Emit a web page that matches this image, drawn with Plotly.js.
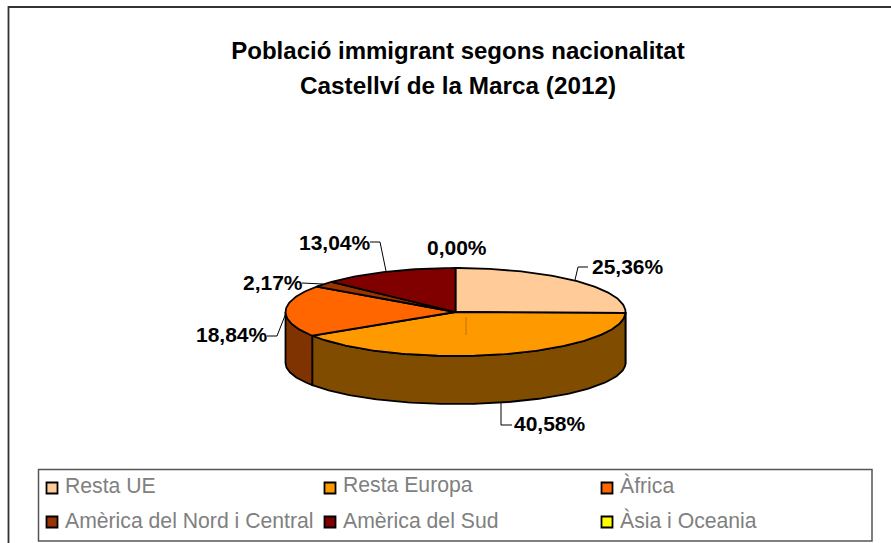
<!DOCTYPE html>
<html><head><meta charset="utf-8">
<script src="https://cdn.plot.ly/plotly-3.0.1.min.js"></script>
<style>html,body{margin:0;padding:0;background:#fff;overflow:hidden}</style>
</head><body><div id="chart" style="width:891px;height:543px"></div>
<script>
const categories = ["Resta UE","Resta Europa","Àfrica","Amèrica del Nord i Central","Amèrica del Sud","Àsia i Oceania"];
const values = [25.36,40.58,18.84,2.17,13.04,0.00];
const topColors = ["#FFCC99","#FF9900","#FF6600","#993300","#800000","#FFFF00"];
const sideColors = ["#7F6650","#7F4C00","#7F3300","#4C1900","#400000","#7F7F00"];
const FONT = "Liberation Sans, Arial, sans-serif";

// pie geometry on a pixel-like axis
const cx=455.5, cy=312, rx=170, ry=44, cyBottom=363, ryBottom=41;
const total = values.reduce((a,b)=>a+b,0);
const toAngle = v => v/total*2*Math.PI;
function arc(a0,a1,c,r){
  const n=Math.max(2,Math.ceil((a1-a0)/0.02)), xs=[], ys=[];
  for(let i=0;i<=n;i++){const a=a0+(a1-a0)*i/n; xs.push(cx+rx*Math.sin(a)); ys.push(c-r*Math.cos(a));}
  return [xs,ys];
}
const traces=[];
let cum=0;
const spans=values.map(v=>{const s=[cum,cum+toAngle(v)];cum=s[1];return s;});
// side walls (front half only)
spans.forEach((s,i)=>{
  const a0=Math.max(s[0],Math.PI/2), a1=Math.min(s[1],3*Math.PI/2);
  if(a1<=a0) return;
  const [tx,ty]=arc(a0,a1,cy,ry), [bx,by]=arc(a0,a1,cyBottom,ryBottom);
  traces.push({type:"scatter",mode:"lines",fill:"toself",fillcolor:sideColors[i],
    x:tx.concat(bx.reverse(),[tx[0]]),y:ty.concat(by.reverse(),[ty[0]]),
    line:{color:"#000",width:1.8},hoverinfo:"skip",showlegend:false});
});
// top faces
spans.forEach((s,i)=>{
  if(values[i]===0) return;
  const [tx,ty]=arc(s[0],s[1],cy,ry);
  traces.push({type:"scatter",mode:"lines",fill:"toself",fillcolor:topColors[i],name:categories[i],
    x:[cx].concat(tx,[cx]),y:[cy].concat(ty,[cy]),
    line:{color:"#000",width:1.8},hoverinfo:"skip",showlegend:false});
});
// leader lines
const leaderX=[[575,578,588],[501,501,512],[286,277,267],[323,302],[386,380,370]];
const leaderY=[[280,267,267],[403,425,425],[313,336,336],[284,283],[271,242,242]];
leaderX.forEach((lx,i)=>traces.push({type:"scatter",mode:"lines",x:lx,y:leaderY[i],
  line:{color:"#000",width:1},hoverinfo:"skip",showlegend:false}));
// thin mark left inside the pie by the empty slice
traces.push({type:"scatter",mode:"lines",x:[466,466],y:[317,335],line:{color:"#A86A00",width:0.8},hoverinfo:"skip",showlegend:false});
// legend swatches
const legX=[52,330,607], legY=[488,522];
const legTextX=[65,343,620], legTextY=[485,520];
const swX=categories.map((c,i)=>legX[i%3]), swY=categories.map((c,i)=>legY[Math.floor(i/3)]);
traces.push({type:"scatter",mode:"markers",x:swX,y:swY,
  marker:{symbol:"square",size:11,color:topColors,line:{color:"#000",width:1.8}},hoverinfo:"skip",showlegend:false});

const labelX=[628,550,232,273,335,457], labelY=[266,423,334,282,242,247];
const annotations=values.map((v,i)=>({x:labelX[i],y:labelY[i],xref:"x",yref:"y",showarrow:false,
  text:v.toFixed(2).replace(".",",")+"%",font:{family:FONT,size:21,color:"#000",weight:700},xanchor:"center",yanchor:"middle"}));
categories.forEach((c,i)=>annotations.push({x:legTextX[i%3],y:legTextY[Math.floor(i/3)],xref:"x",yref:"y",showarrow:false,
  text:c,font:{family:FONT,size:21.2,color:"#808080"},xanchor:"left",yanchor:"middle",xshift:-2}));
annotations.push({x:458,y:85,xref:"x",yref:"y",showarrow:false,text:"Castellví de la Marca (2012)",
  font:{family:FONT,size:24.3,color:"#000",weight:700},xanchor:"center",yanchor:"middle"});

const layout={
  width:891,height:543,margin:{l:0,r:0,t:0,b:0},paper_bgcolor:"#fff",plot_bgcolor:"#fff",showlegend:false,
  title:{text:"Població immigrant segons nacionalitat",x:458/891,xanchor:"center",y:1-51/543,yanchor:"middle",
    font:{family:FONT,size:24,color:"#000",weight:700}},
  xaxis:{range:[0,891],visible:false,fixedrange:true},
  yaxis:{range:[543,0],visible:false,fixedrange:true},
  annotations,
  shapes:[
    {type:"rect",xref:"x",yref:"y",x0:8.5,y0:7,x1:900,y1:560,line:{color:"#333",width:1.8},layer:"below"},
    {type:"rect",xref:"x",yref:"y",x0:38.5,y0:469.5,x1:872,y1:541,line:{color:"#555",width:1.5},layer:"below"}
  ]
};
Plotly.newPlot("chart",traces,layout,{displayModeBar:false,staticPlot:true});
</script></body></html>
